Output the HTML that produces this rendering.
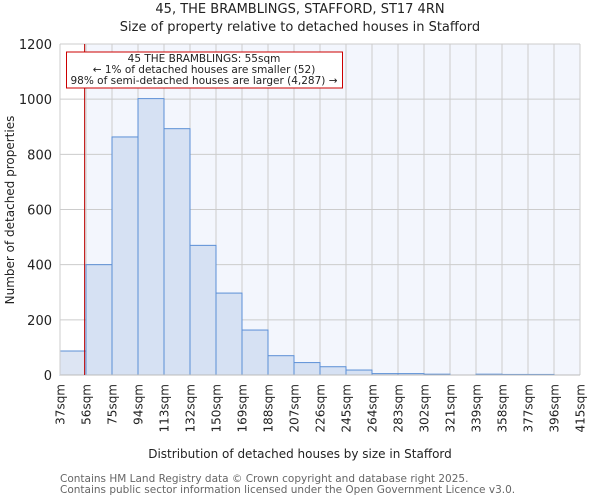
<!DOCTYPE html>
<html><head><meta charset="utf-8"><style>
body{margin:0;background:#fff;font-family:"DejaVu Sans","Liberation Sans",sans-serif;}
</style></head><body>
<svg width="600" height="500" xmlns="http://www.w3.org/2000/svg" font-family="DejaVu Sans, Liberation Sans, sans-serif">
<text x="300" y="13" text-anchor="middle" font-size="13" fill="#222">45, THE BRAMBLINGS, STAFFORD, ST17 4RN</text>
<text x="300" y="31" text-anchor="middle" font-size="13" fill="#222">Size of property relative to detached houses in Stafford</text>
<rect x="60" y="44" width="520" height="331" fill="#fff"/>
<rect x="85.6" y="44" width="494.4" height="331" fill="#f3f6fd"/>
<g id="grid"></g>
<g id="bars"></g>
<line x1="60" y1="375" x2="580" y2="375" stroke="#bbb"/>
<line x1="60" y1="44" x2="60" y2="375" stroke="#ccc"/>
<line id="marker" y1="44" y2="375" stroke="#b00" stroke-width="1"/>
<rect x="66.5" y="52" width="276" height="36" fill="#fff" stroke="#c00"/>
<text x="204" y="62" text-anchor="middle" font-size="10.5" fill="#222">45 THE BRAMBLINGS: 55sqm</text>
<text x="204" y="73" text-anchor="middle" font-size="10.5" fill="#222">← 1% of detached houses are smaller (52)</text>
<text x="204" y="84" text-anchor="middle" font-size="10.5" fill="#222">98% of semi-detached houses are larger (4,287) →</text>
<g id="yticks"></g>
<g id="xticks"></g>
<text x="300" y="458" text-anchor="middle" font-size="12" fill="#222">Distribution of detached houses by size in Stafford</text>
<text transform="translate(14,210) rotate(-90)" text-anchor="middle" font-size="12" fill="#222">Number of detached properties</text>
<text x="60" y="482" font-size="10.5" fill="#666">Contains HM Land Registry data © Crown copyright and database right 2025.</text>
<text x="60" y="493" font-size="10.5" fill="#666">Contains public sector information licensed under the Open Government Licence v3.0.</text>
</svg>
<script>
const binLabels=["37sqm","56sqm","75sqm","94sqm","113sqm","132sqm","150sqm","169sqm","188sqm","207sqm","226sqm","245sqm","264sqm","283sqm","302sqm","321sqm","339sqm","358sqm","377sqm","396sqm","415sqm"];
const counts=[87,400,863,1002,893,470,297,163,70,45,30,18,5,5,3,0,3,2,2,0];
const yTicks=[0,200,400,600,800,1000,1200];
const markerValue=55;
const binEdges=[37,56,75,94,113,132,150,169,188,207,226,245,264,283,302,321,339,358,377,396,415];
const NS="http://www.w3.org/2000/svg";
const L=60,R=580,T=44,B=375,yMax=1200;
const bw=(R-L)/counts.length;
const xs=i=>L+i*bw;
const ys=v=>B-(v/yMax)*(B-T);
function xv(v){for(let i=0;i<binEdges.length-1;i++){if(v<=binEdges[i+1]){return xs(i)+(v-binEdges[i])/(binEdges[i+1]-binEdges[i])*bw;}}return R;}
const grid=document.getElementById('grid'),bars=document.getElementById('bars'),yt=document.getElementById('yticks'),xt=document.getElementById('xticks');
function mk(t,a){const e=document.createElementNS(NS,t);for(const k in a)e.setAttribute(k,a[k]);return e;}
yTicks.forEach(v=>{
 const g=mk('line',{x1:L,x2:R,y1:ys(v),y2:ys(v),stroke:'#ccc'});
 
 
 grid.appendChild(g);
 const t=mk('text',{x:L-8,y:ys(v)+5,'text-anchor':'end','font-size':'13',fill:'#222'});
 
 
 t.textContent=v;yt.appendChild(t);
});
binLabels.forEach((lab,i)=>{
 const x=xs(i);
 const g=mk('line',{x1:x,x2:x,y1:T,y2:B,stroke:'#ccc'});
 
 
 grid.appendChild(g);
 const t=mk('text',{transform:`translate(${x+4.5},384) rotate(-90)`,'text-anchor':'end','font-size':'12',fill:'#222'});
 
 
 t.textContent=lab;xt.appendChild(t);
});
counts.forEach((c,i)=>{
 if(c<=0)return;
 const r=mk('rect',{x:xs(i),y:ys(c),width:bw,height:B-ys(c),fill:i===0?'#dde5f3':'#d6e1f3',stroke:'#5b8fd6','stroke-width':'1'});
 
 
 bars.appendChild(r);
});
const m=document.getElementById('marker');const mx=xv(markerValue);m.setAttribute('x1',mx);m.setAttribute('x2',mx);
</script>
</body></html>
